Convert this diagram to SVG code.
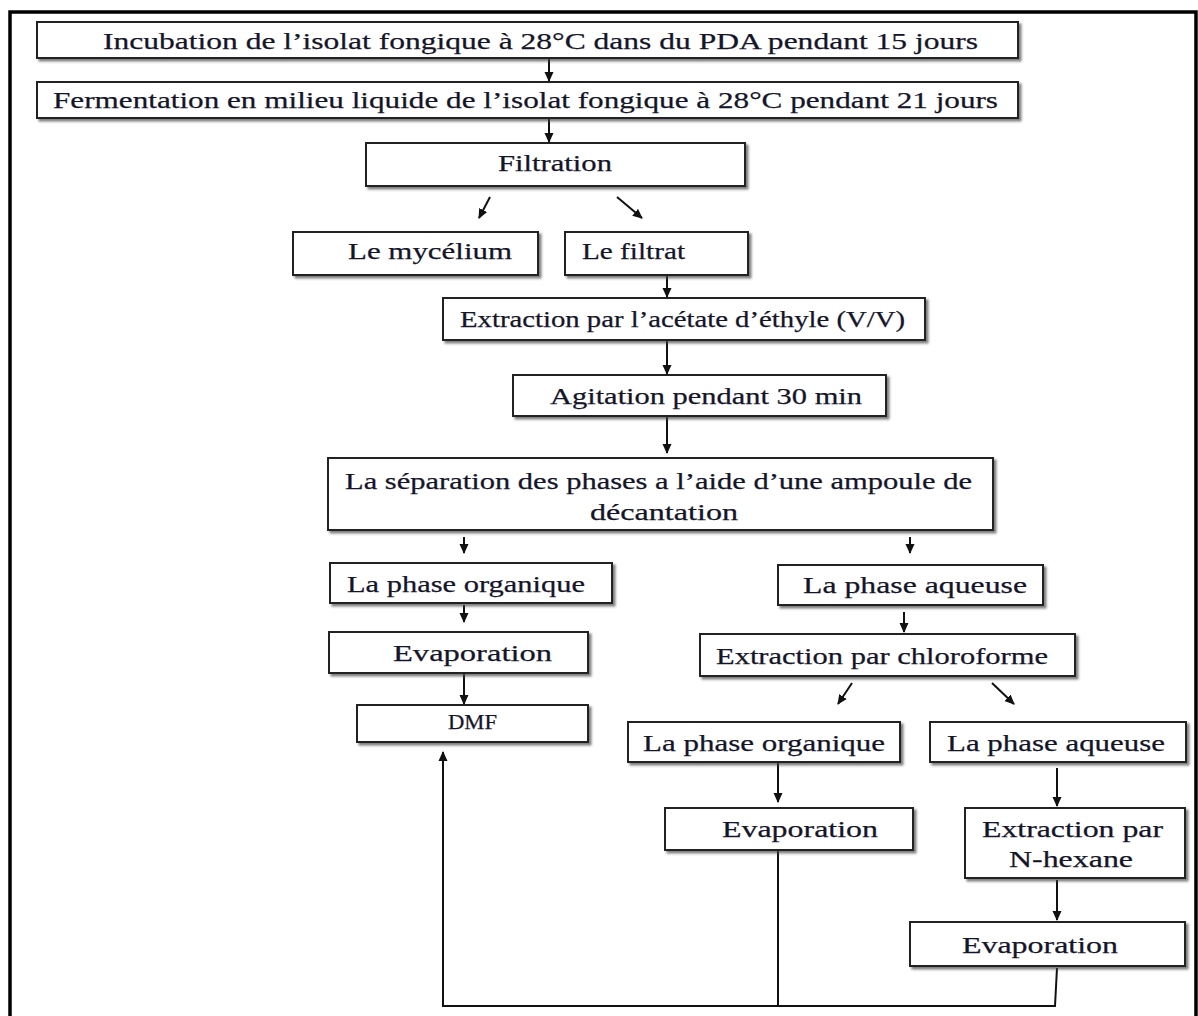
<svg xmlns="http://www.w3.org/2000/svg" width="1198" height="1016" viewBox="0 0 1198 1016">
<style>
.box{fill:#fff;stroke:#222;stroke-width:2;filter:url(#sh)}
.t{font-family:"Liberation Serif","Times New Roman",serif;font-size:24px;fill:#15152a;stroke:#15152a;stroke-width:0.25}
.c{fill:none;stroke:#111;stroke-width:2}
.a{marker-end:url(#ah)}
</style>
<defs>
<filter id="sh" x="-5%" y="-20%" width="115%" height="150%">
<feDropShadow dx="2.5" dy="2.5" stdDeviation="1" flood-color="#444" flood-opacity="0.7"/>
</filter>
<marker id="ah" markerUnits="userSpaceOnUse" markerWidth="10" markerHeight="10" refX="9" refY="5" orient="auto" viewBox="0 0 10 10">
<path d="M0,0.5 L10,5 L0,9.5 z" fill="#111"/>
</marker>
</defs>
<rect width="1198" height="1016" fill="#fff"/>
<path d="M10,1016 V12 H1196 V1016" fill="none" stroke="#000" stroke-width="3.5"/>

<g id="connectors">
<line class="c a" x1="549" y1="58" x2="549" y2="81"/>
<line class="c a" x1="549" y1="118" x2="549" y2="142"/>
<line class="c a" x1="490" y1="197" x2="479" y2="218"/>
<line class="c a" x1="617" y1="197" x2="642" y2="218"/>
<line class="c a" x1="667" y1="275" x2="667" y2="297"/>
<line class="c a" x1="667" y1="340" x2="667" y2="374"/>
<line class="c a" x1="667" y1="416" x2="667" y2="453"/>
<line class="c a" x1="464" y1="537" x2="464" y2="553"/>
<line class="c a" x1="910" y1="537" x2="910" y2="553"/>
<line class="c a" x1="464" y1="605" x2="464" y2="622"/>
<line class="c a" x1="464" y1="673" x2="464" y2="704"/>
<line class="c a" x1="904" y1="612" x2="904" y2="632"/>
<line class="c a" x1="852" y1="683" x2="838" y2="704"/>
<line class="c a" x1="992" y1="683" x2="1014" y2="704"/>
<line class="c a" x1="778" y1="762" x2="778" y2="802"/>
<line class="c a" x1="1057" y1="768" x2="1057" y2="806"/>
<line class="c a" x1="1057" y1="880" x2="1057" y2="920"/>
<path class="c" d="M778,850 V1006"/>
<path class="c" d="M1057,968 L1055,1006 H443 V752" marker-end="url(#ah)"/>
</g>

<g id="n1"><rect class="box" x="37" y="22" width="981" height="36"/>
<text class="t" x="103" y="49" textLength="875" lengthAdjust="spacingAndGlyphs">Incubation de l’isolat fongique à 28°C dans du PDA pendant 15 jours</text></g>
<g id="n2"><rect class="box" x="37" y="82" width="981" height="36"/>
<text class="t" x="53" y="108" textLength="945" lengthAdjust="spacingAndGlyphs">Fermentation en milieu liquide de l’isolat fongique à 28°C pendant 21 jours</text></g>
<g id="n3"><rect class="box" x="366" y="143" width="379" height="43"/>
<text class="t" x="498" y="171" textLength="114" lengthAdjust="spacingAndGlyphs">Filtration</text></g>
<g id="n4"><rect class="box" x="293" y="232" width="245" height="43"/>
<text class="t" x="348" y="259" textLength="164" lengthAdjust="spacingAndGlyphs">Le mycélium</text></g>
<g id="n5"><rect class="box" x="565" y="232" width="183" height="43"/>
<text class="t" x="582" y="259" textLength="103" lengthAdjust="spacingAndGlyphs">Le filtrat</text></g>
<g id="n6"><rect class="box" x="443" y="298" width="482" height="42"/>
<text class="t" x="460" y="327" textLength="445" lengthAdjust="spacingAndGlyphs">Extraction par l’acétate d’éthyle  (V/V)</text></g>
<g id="n7"><rect class="box" x="513" y="375" width="373" height="41"/>
<text class="t" x="550" y="404" textLength="312" lengthAdjust="spacingAndGlyphs">Agitation pendant 30 min</text></g>
<g id="n8"><rect class="box" x="328" y="458" width="665" height="72"/>
<text class="t" x="345" y="489" textLength="627" lengthAdjust="spacingAndGlyphs">La séparation des phases a l’aide d’une ampoule  de</text>
<text class="t" x="590" y="520" textLength="148" lengthAdjust="spacingAndGlyphs">décantation</text></g>
<g id="n9"><rect class="box" x="330" y="563" width="282" height="40"/>
<text class="t" x="347" y="592" textLength="238" lengthAdjust="spacingAndGlyphs">La phase organique</text></g>
<g id="n10"><rect class="box" x="329" y="632" width="259" height="41"/>
<text class="t" x="393" y="661" textLength="159" lengthAdjust="spacingAndGlyphs">Evaporation</text></g>
<g id="n11"><rect class="box" x="357" y="705" width="231" height="37"/>
<text class="t" x="448" y="729" textLength="49" lengthAdjust="spacingAndGlyphs" style="font-size:20px">DMF</text></g>
<g id="n12"><rect class="box" x="778" y="565" width="265" height="40"/>
<text class="t" x="803" y="593" textLength="224" lengthAdjust="spacingAndGlyphs">La  phase aqueuse</text></g>
<g id="n13"><rect class="box" x="700" y="634" width="375" height="42"/>
<text class="t" x="716" y="664" textLength="332" lengthAdjust="spacingAndGlyphs">Extraction par chloroforme</text></g>
<g id="n14"><rect class="box" x="628" y="722" width="272" height="40"/>
<text class="t" x="643" y="751" textLength="242" lengthAdjust="spacingAndGlyphs">La phase organique</text></g>
<g id="n15"><rect class="box" x="930" y="722" width="256" height="40"/>
<text class="t" x="947" y="751" textLength="218" lengthAdjust="spacingAndGlyphs">La phase aqueuse</text></g>
<g id="n16"><rect class="box" x="665" y="808" width="248" height="42"/>
<text class="t" x="722" y="837" textLength="156" lengthAdjust="spacingAndGlyphs">Evaporation</text></g>
<g id="n17"><rect class="box" x="965" y="808" width="220" height="70"/>
<text class="t" x="982" y="837" textLength="181" lengthAdjust="spacingAndGlyphs">Extraction par</text>
<text class="t" x="1009" y="867" textLength="124" lengthAdjust="spacingAndGlyphs">N-hexane</text></g>
<g id="n18"><rect class="box" x="910" y="922" width="275" height="44"/>
<text class="t" x="962" y="953" textLength="156" lengthAdjust="spacingAndGlyphs">Evaporation</text></g>
</svg>
